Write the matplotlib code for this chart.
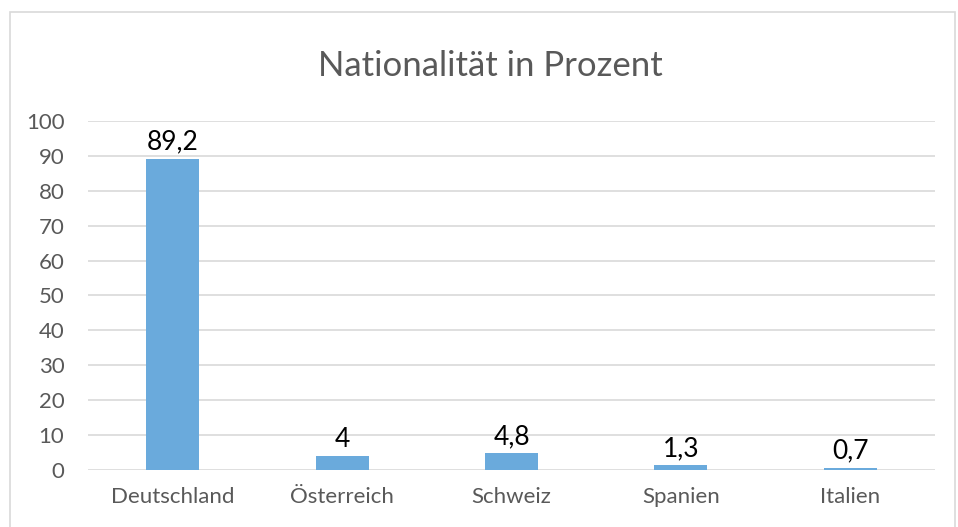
import matplotlib
matplotlib.use('Agg')
import matplotlib.pyplot as plt
from matplotlib.patches import Rectangle

laender = ['Deutschland', 'Österreich', 'Schweiz', 'Spanien', 'Italien']
prozent = [89.2, 4, 4.8, 1.3, 0.7]
labels = ['89,2', '4', '4,8', '1,3', '0,7']
yticks = [0, 10, 20, 30, 40, 50, 60, 70, 80, 90, 100]

plt.rcParams['font.family'] = ['Lato', 'DejaVu Sans']

fig = plt.figure(figsize=(9.58, 5.27), dpi=100)
ax = fig.add_axes([0.0919, 0.1082, 0.8841, 0.6622])

# chart border
fig.patches.append(Rectangle((10 / 958, -0.1), 945 / 958, 1.1 - 12 / 527,
                             transform=fig.transFigure, fill=False,
                             edgecolor='#d9d9d9', linewidth=1.2))

x = range(len(laender))
ax.bar(x, prozent, width=0.313, color='#6aaadc', zorder=3)
for i, v in enumerate(prozent):
    ax.text(i, v + 1.2, labels[i], ha='center', va='bottom', fontsize=19, color='black')

ax.set_xlim(-0.5, len(laender) - 0.5)
ax.set_ylim(0, 100)
ax.set_yticks(yticks)
ax.set_xticks(list(x))
ax.set_xticklabels(laender)
ax.grid(axis='y', color='#d9d9d9', linewidth=1.2, zorder=0)
ax.tick_params(length=0, labelsize=16, labelcolor='#595959')
ax.tick_params(axis='x', pad=12)
ax.tick_params(axis='y', pad=17)
for s in ax.spines.values():
    s.set_visible(False)

fig.text(0.512, 0.875, 'Nationalität in Prozent', ha='center', va='center',
         fontsize=25, color='#595959')

fig.savefig('out.png', dpi=100)
